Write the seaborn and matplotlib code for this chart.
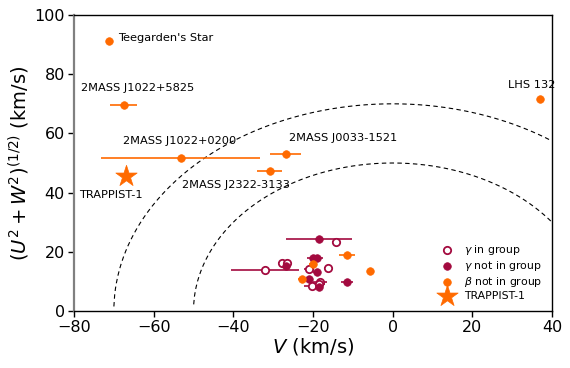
import numpy as np
import pandas as pd
import matplotlib
matplotlib.use("Agg")
import matplotlib.pyplot as plt
import seaborn as sns

# =========================================================
# DATA
# =========================================================

# gamma members, in group (open circles)
gin_v = [-14.25, -32.0, -27.85, -26.4, -20.95, -16.3, -18.25, -20.35, -18.4]
gin_r = [23.3, 13.9, 16.1, 16.3, 14.1, 14.5, 9.9, 8.4, 9.0]
gin_err = [1.0, 8.5, 1.0, 1.0, 1.3, 1.0, 1.7, 2.0, 1.5]

# gamma, not in group (filled)
gout_v = [-18.45, -26.75, -19.9, -19.1, -18.9, -20.95, -18.5, -11.4]
gout_r = [24.2, 15.3, 17.9, 18.0, 13.3, 10.7, 8.0, 9.9]
gout_err = [8.2, 1.0, 1.5, 1.5, 1.0, 1.0, 1.0, 1.5]

# beta, not in group (orange)
beta_v = [-71.1, -67.55, -53.2, -26.85, -30.9, 36.9, -11.55, -20.1, -22.65, -5.7]
beta_r = [91.2, 69.6, 51.6, 53.1, 47.4, 71.6, 19.0, 15.9, 10.9, 13.6]
beta_err = [0.0, 3.4, 19.9, 3.85, 3.05, 0.0, 2.0, 1.0, 1.0, 0.0]

trap_v = [-67.0]
trap_r = [45.6]

names = ["Teegarden's Star", "2MASS J1022+5825", "2MASS J1022+0200",
         "2MASS J0033-1521", "2MASS J2322-3133", "LHS 132", "TRAPPIST-1"]
name_x = [-68.9, -78.2, -67.7, -26.0, -52.9, 28.9, -78.7]
name_y = [92.2, 75.3, 57.4, 58.4, 42.6, 76.4, 39.2]

circle_radii = [70, 50]

orange = "#ff6a00"
crimson = "#a30a3f"

# =========================================================
# PLOT
# =========================================================

sns.set_style("ticks")
plt.rcParams["text.color"] = "black"
plt.rcParams["axes.labelcolor"] = "black"

fig = plt.figure(figsize=(5.7, 3.68), dpi=100)
ax = fig.add_axes([0.1298, 0.1549, 0.8386, 0.8043])

vv = np.linspace(-80, 40, 600)
for r in circle_radii:
    with np.errstate(invalid="ignore"):
        yy = np.sqrt(r ** 2 - vv ** 2)
    ax.plot(vv, yy, "k--", lw=0.8, dashes=(4, 3))

# error bars
ax.errorbar(beta_v, beta_r, xerr=beta_err, fmt="none", ecolor=orange, lw=1.2, zorder=2)
ax.errorbar(gout_v, gout_r, xerr=gout_err, fmt="none", ecolor=crimson, lw=1.2, zorder=2)
ax.errorbar(gin_v, gin_r, xerr=gin_err, fmt="none", ecolor=crimson, lw=1.2, zorder=2)

df_gin = pd.DataFrame({"V": gin_v, "R": gin_r})
df_gout = pd.DataFrame({"V": gout_v, "R": gout_r})
df_beta = pd.DataFrame({"V": beta_v, "R": beta_r})
df_trap = pd.DataFrame({"V": trap_v, "R": trap_r})

sns.scatterplot(data=df_gin, x="V", y="R", ax=ax, marker="o", s=28,
                facecolor="white", edgecolor=crimson, linewidth=1.3,
                label=r"$\gamma$ in group", zorder=3)
sns.scatterplot(data=df_gout, x="V", y="R", ax=ax, marker="o", s=30,
                color=crimson, edgecolor=crimson, linewidth=0.5,
                label=r"$\gamma$ not in group", zorder=3)
sns.scatterplot(data=df_beta, x="V", y="R", ax=ax, marker="o", s=30,
                color=orange, edgecolor=orange, linewidth=0.5,
                label=r"$\beta$ not in group", zorder=3)
sns.scatterplot(data=df_trap, x="V", y="R", ax=ax, marker="*", s=260,
                color=orange, edgecolor=orange, linewidth=0.5,
                label="TRAPPIST-1", zorder=3)

for name, x, y in zip(names, name_x, name_y):
    ax.text(x, y, name, fontsize=8.2, ha="left", va="center", color="black")

ax.set_xlim(-80, 40)
ax.set_ylim(0, 100)
ax.set_xticks(range(-80, 41, 20))
ax.set_yticks(range(0, 101, 20))
ax.tick_params(labelsize=11.5, length=4.5, width=1, colors="black", pad=2)

ax.set_xlabel("$V$ (km/s)", fontsize=14, labelpad=1)
ax.set_ylabel("$(U^2 + W^2)^{(1/2)}$ (km/s)", fontsize=14, labelpad=2)

for side in ["top", "right", "bottom"]:
    ax.spines[side].set_color("black")
    ax.spines[side].set_linewidth(1.0)
ax.spines["left"].set_color("gray")
ax.spines["left"].set_linewidth(1.6)

leg = ax.legend(loc="lower right", frameon=False, fontsize=7.8, markerscale=1.0,
                handletextpad=0.6, labelspacing=0.2, borderaxespad=0.5)
for t in leg.get_texts():
    t.set_color("black")

fig.savefig("out.png", dpi=100)
